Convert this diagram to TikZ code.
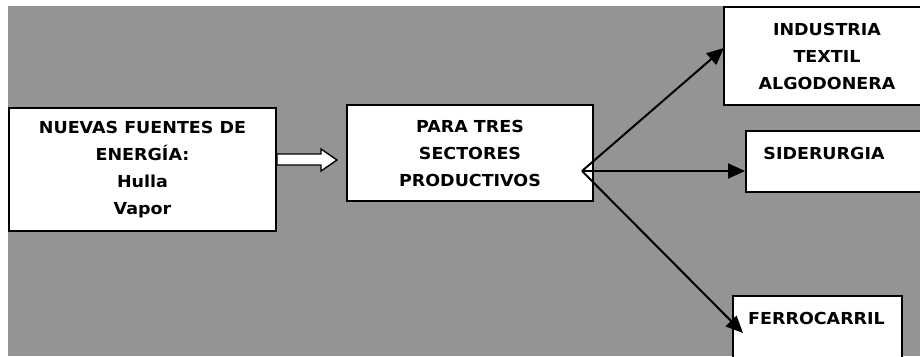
\documentclass[tikz,border=0pt]{standalone}
\usepackage{fontspec}
\setmainfont{DejaVu Sans}[FakeStretch=1.06]
\usetikzlibrary{arrows.meta}
\definecolor{fondo}{RGB}{148,148,148}

\begin{document}
\begin{tikzpicture}[x=1pt,y=-1pt,
  caja/.style={draw=black,fill=white,line width=1.8pt,inner sep=0pt},
  texto/.style={font=\bfseries\fontsize{16.5}{27}\selectfont,align=center,inner sep=0pt},
  flecha/.style={line width=2pt,-{Triangle[length=17pt,width=15pt]}},
  hueca/.style={draw=black,fill=white,line width=1.4pt}]
\useasboundingbox (0,0) rectangle (920,356);
\fill[fondo] (8,6) rectangle (920,356);

\node[caja,texto,minimum width=267,minimum height=123] (fuentes) at (142.5,169.5) {NUEVAS FUENTES DE\\ENERGÍA:\\Hulla\\Vapor};
\node[caja,texto,minimum width=246,minimum height=96] (sectores) at (470,153) {PARA TRES\\SECTORES\\PRODUCTIVOS};
\node[caja,texto,minimum width=206,minimum height=98] (textil) at (827,56) {INDUSTRIA\\TEXTIL\\ALGODONERA};
\node[caja,minimum width=190,minimum height=61,anchor=north west] (sider) at (745,130) {};
\node[texto] (sidertxt) at (824,153) {SIDERURGIA};
\node[caja,minimum width=169,minimum height=80,anchor=north west] (ferro) at (732,295) {};
\node[texto] (ferrotxt) at (816.5,318) {FERROCARRIL};

\coordinate (centro) at (582,171);
\coordinate (atextil) at (724,48);
\coordinate (asider) at (745,171);
\coordinate (aferro) at (743,333);

% flecha hueca
\draw[hueca] (fuentes.east |- 0,154) -- (321,154) -- (321,149) -- (337,160) -- (321,171) -- (321,165) -- (fuentes.east |- 0,165) -- cycle;

\draw[flecha] (centro) -- (atextil);
\draw[flecha] (centro) -- (asider);
\draw[flecha] (centro) -- (aferro);
\end{tikzpicture}
\end{document}
